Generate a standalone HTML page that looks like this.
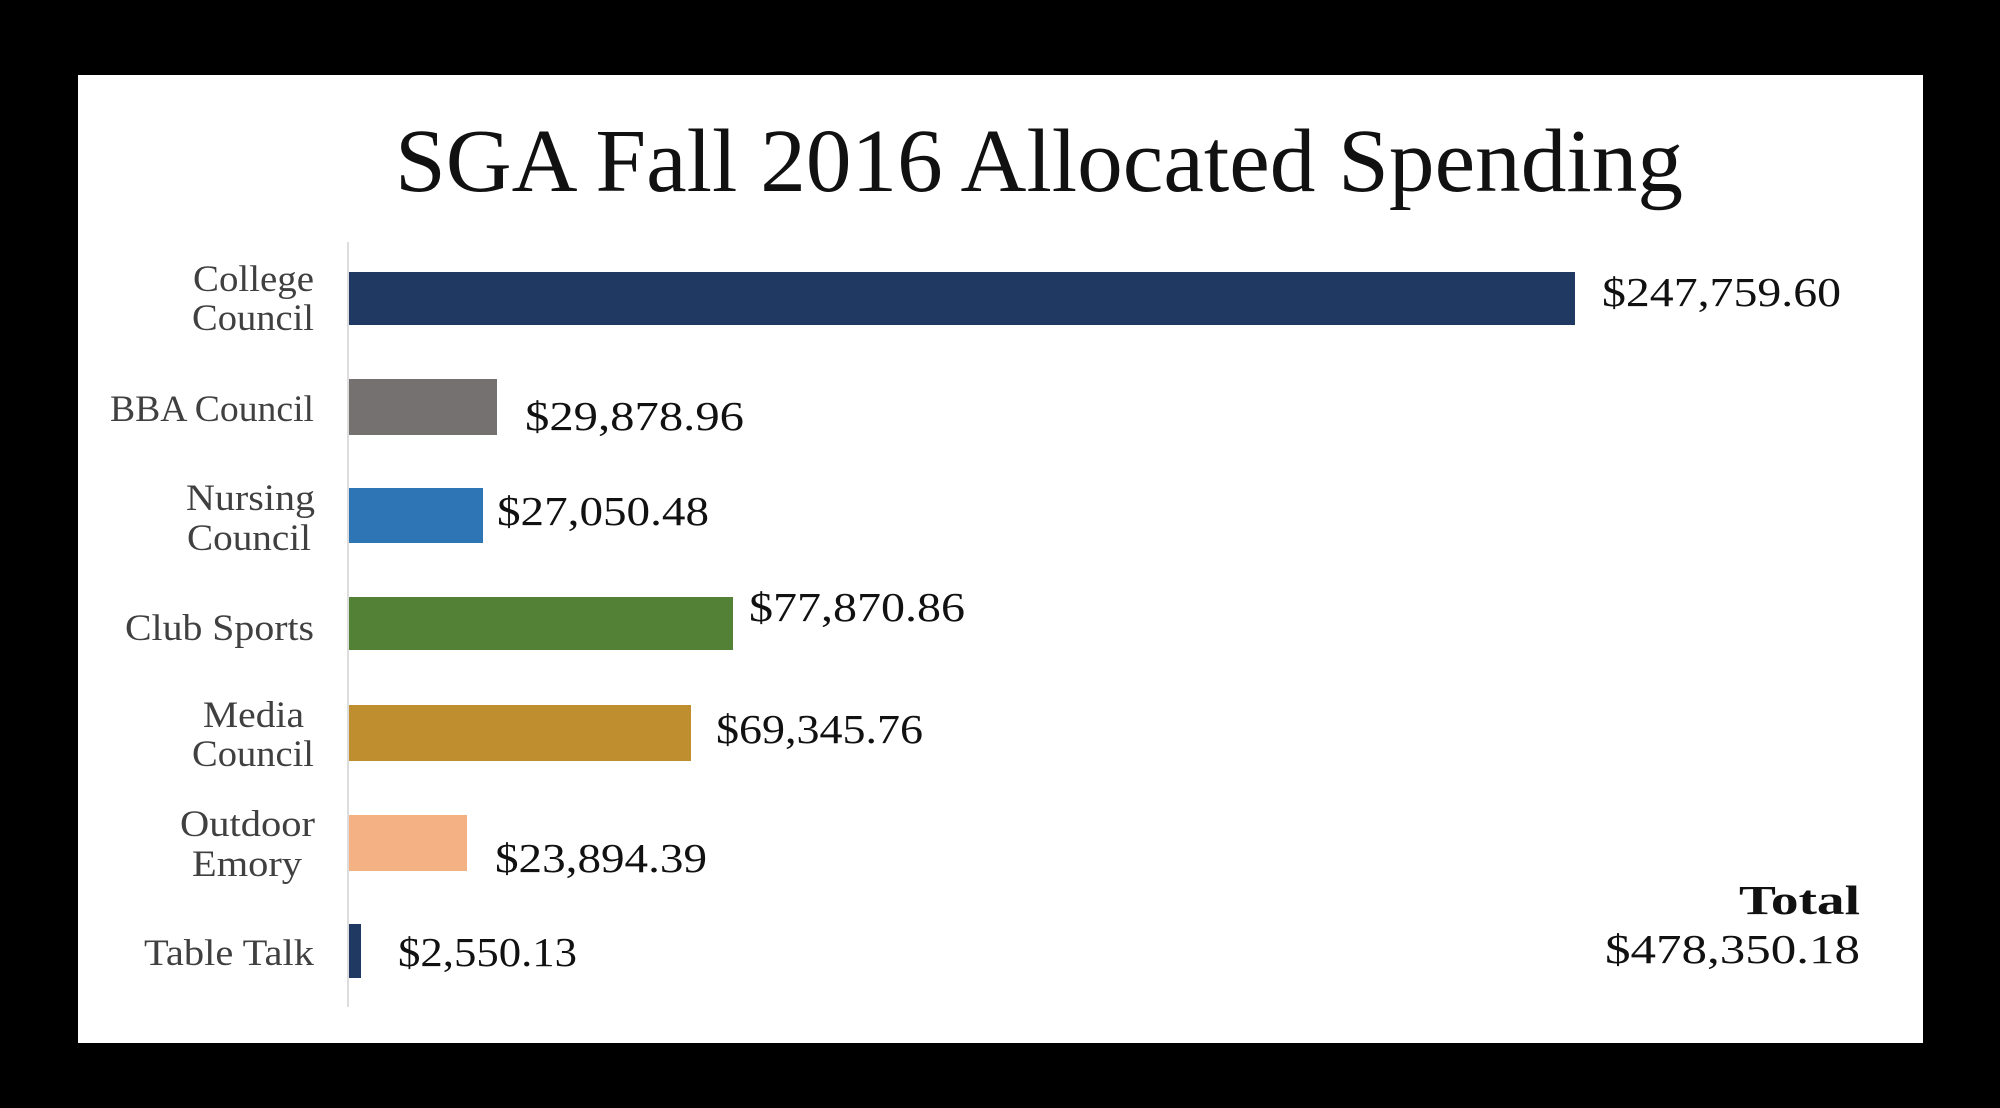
<!DOCTYPE html>
<html><head><style>html,body{margin:0;padding:0;background:#000}svg{display:block}</style></head>
<body>
<svg width="2000" height="1108" viewBox="0 0 2000 1108" xmlns="http://www.w3.org/2000/svg">
<rect x="0" y="0" width="2000" height="1108" fill="#000"/>
<rect x="78" y="75" width="1845" height="968" fill="#fff"/>
<text x="1039" y="191" text-anchor="middle" font-family="Liberation Serif, serif" font-size="90" fill="#111" textLength="1288" lengthAdjust="spacingAndGlyphs">SGA Fall 2016 Allocated Spending</text>
<line x1="348" y1="242" x2="348" y2="1007" stroke="#ddd" stroke-width="2"/>
<g>
<rect x="349" y="272" width="1226" height="53" fill="#1f3962"/>
<rect x="349" y="379" width="148" height="56" fill="#767171"/>
<rect x="349" y="488" width="134" height="55" fill="#2e75b6"/>
<rect x="349" y="597" width="384" height="53" fill="#538135"/>
<rect x="349" y="705" width="342" height="56" fill="#bf8f2f"/>
<rect x="349" y="815" width="118" height="56" fill="#f4b183"/>
<rect x="349" y="924" width="12" height="54" fill="#1f3962"/>
</g>
<g font-family="Liberation Serif, serif" font-size="37" fill="#404040" text-anchor="end" lengthAdjust="spacingAndGlyphs">
<text x="314" y="291" textLength="121" lengthAdjust="spacingAndGlyphs">College</text><text x="314" y="330" textLength="122" lengthAdjust="spacingAndGlyphs">Council</text>
<text x="314" y="421" textLength="204" lengthAdjust="spacingAndGlyphs">BBA Council</text>
<text x="315" y="510" textLength="129" lengthAdjust="spacingAndGlyphs">Nursing</text><text x="311" y="550" textLength="124" lengthAdjust="spacingAndGlyphs">Council</text>
<text x="314" y="640" textLength="189" lengthAdjust="spacingAndGlyphs">Club Sports</text>
<text x="304" y="727" textLength="101" lengthAdjust="spacingAndGlyphs">Media</text><text x="314" y="766" textLength="122" lengthAdjust="spacingAndGlyphs">Council</text>
<text x="315" y="836" textLength="135" lengthAdjust="spacingAndGlyphs">Outdoor</text><text x="302" y="876" textLength="110" lengthAdjust="spacingAndGlyphs">Emory</text>
<text x="314" y="965" textLength="170" lengthAdjust="spacingAndGlyphs">Table Talk</text>
</g>
<g font-family="Liberation Serif, serif" font-size="41" fill="#111">
<text x="1602" y="306" textLength="239" lengthAdjust="spacingAndGlyphs">$247,759.60</text>
<text x="525" y="430" textLength="219" lengthAdjust="spacingAndGlyphs">$29,878.96</text>
<text x="497" y="525" textLength="212" lengthAdjust="spacingAndGlyphs">$27,050.48</text>
<text x="749" y="621" textLength="216" lengthAdjust="spacingAndGlyphs">$77,870.86</text>
<text x="716" y="743" textLength="207" lengthAdjust="spacingAndGlyphs">$69,345.76</text>
<text x="495" y="872" textLength="212" lengthAdjust="spacingAndGlyphs">$23,894.39</text>
<text x="398" y="966" textLength="179" lengthAdjust="spacingAndGlyphs">$2,550.13</text>
<text x="1860" y="914" text-anchor="end" font-weight="bold" textLength="121" lengthAdjust="spacingAndGlyphs">Total</text>
<text x="1860" y="963" text-anchor="end" textLength="255" lengthAdjust="spacingAndGlyphs">$478,350.18</text>
</g>
</svg>
</body></html>
